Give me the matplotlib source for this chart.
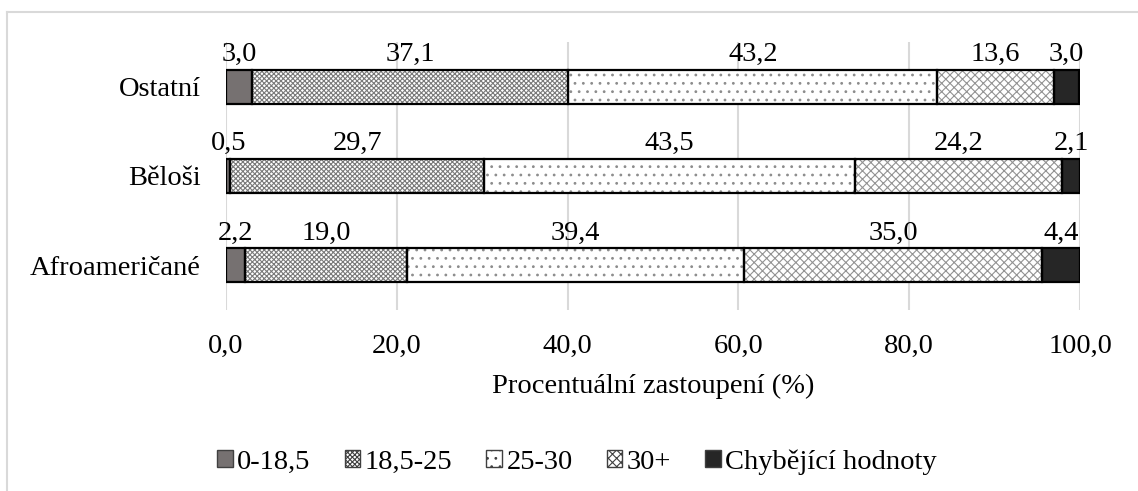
import numpy as np
import matplotlib.pyplot as plt
from matplotlib.lines import Line2D
from matplotlib.patches import Patch

plt.rcParams['font.family'] = ['Liberation Serif', 'DejaVu Serif']
plt.rcParams['hatch.linewidth'] = 0.8

# data (percent), bottom row first
groups = ['Afroameričané', 'Běloši', 'Ostatní']
bmi_classes = ['0-18,5', '18,5-25', '25-30', '30+', 'Chybějící hodnoty']
vals_0_185 = [2.2, 0.5, 3.0]
vals_185_25 = [19.0, 29.7, 37.1]
vals_25_30 = [39.4, 43.5, 43.2]
vals_30 = [35.0, 24.2, 13.6]
vals_missing = [4.4, 2.1, 3.0]
x_ticks = [0, 20, 40, 60, 80, 100]

series = [vals_0_185, vals_185_25, vals_25_30, vals_30, vals_missing]
faces = ['#767171', 'white', 'white', 'white', '#262626']
hatches = [None, 'xxxxxxx', '..', 'xxxx', None]
hatch_cols = ['#767171', '#7a7a7a', '#8c8c8c', '#939393', '#262626']

fs = 20.5
fig = plt.figure(figsize=(11.38, 4.91), dpi=100)
ax = fig.add_axes([0.1986, 0.3686, 0.7505, 0.5459])

y = np.arange(len(groups))
h = 0.38
left = np.zeros(len(groups))
for vals, fc, ht, hc in zip(series, faces, hatches, hatch_cols):
    vals = np.array(vals)
    ax.bar(left + vals / 2, h, width=vals, bottom=y - h / 2, color=fc,
           hatch=ht, edgecolor=hc, linewidth=0, zorder=2)
    ax.barh(y, vals, left=left, height=h, fill=False, edgecolor='black',
            linewidth=1.6, zorder=3)
    for yi, l, v in zip(y, left, vals):
        ax.text(l + v / 2, yi + h / 2 + 0.03, f'{v:.1f}'.replace('.', ','),
                ha='center', va='bottom', fontsize=fs)
    left += vals

ax.set_xlim(0, 100)
ax.set_ylim(-0.5, 2.5)
ax.set_xticks(x_ticks)
ax.set_xticklabels([f'{t:.1f}'.replace('.', ',') for t in x_ticks], fontsize=fs)
ax.set_yticks(y)
ax.set_yticklabels(groups, fontsize=fs)
ax.tick_params(length=0)
ax.tick_params(axis='x', pad=17)
ax.tick_params(axis='y', pad=18)
ax.grid(axis='x', color='#d9d9d9', linewidth=1.5, zorder=0)
ax.set_axisbelow(True)
for s in ax.spines.values():
    s.set_visible(False)
ax.set_xlabel('Procentuální zastoupení (%)', fontsize=fs, labelpad=11)

handles = [Patch(facecolor=fc, hatch=ht, edgecolor='#404040', linewidth=1)
           for fc, ht in zip(faces, hatches)]
fig.legend(handles, bmi_classes, loc='center', bbox_to_anchor=(0.507, 0.059),
           ncol=5, frameon=False, fontsize=fs, handlelength=0.55,
           handleheight=0.55, handletextpad=0.15, columnspacing=1.2)

# chart area frame (cropped)
fig.add_artist(Line2D([7 / 1138, 1], [1 - 12 / 491] * 2, color='#d9d9d9',
                      linewidth=1.5, transform=fig.transFigure))
fig.add_artist(Line2D([7 / 1138] * 2, [0, 1 - 12 / 491], color='#d9d9d9',
                      linewidth=1.5, transform=fig.transFigure))

fig.savefig('out.png', dpi=100)
